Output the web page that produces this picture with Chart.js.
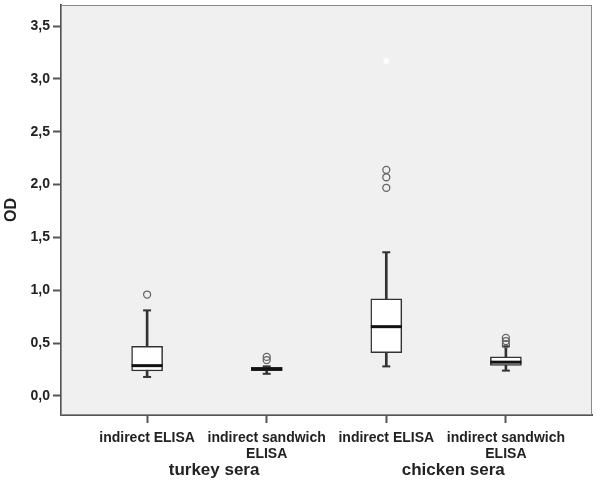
<!DOCTYPE html>
<html>
<head>
<meta charset="utf-8">
<script src="https://cdn.jsdelivr.net/npm/chart.js@4/dist/chart.umd.min.js"></script>
<style>
  html, body { margin: 0; padding: 0; background: #fff; }
  #wrap { width: 601px; height: 487px; }
</style>
</head>
<body>
<div id="wrap"><canvas id="chart" width="601" height="487"></canvas></div>
<script>
// Values
const categories = ['indirect ELISA', ['indirect sandwich', 'ELISA'], 'indirect ELISA', ['indirect sandwich', 'ELISA']];
const groups = ['turkey sera', 'chicken sera'];
const whiskerLow = [0.18, 0.21, 0.28, 0.24];
const q1 = [0.236, 0.24, 0.41, 0.29];
const median = [0.287, 0.255, 0.656, 0.32];
const q3 = [0.47, 0.27, 0.92, 0.37];
const whiskerHigh = [0.81, 0.28, 1.36, 0.47];
const outliers = [[0.96], [0.34, 0.37], [1.97, 2.07, 2.14], [0.49, 0.52, 0.55]];
const extremes = [[], [], [3.17], []];
const yTicks = [0, 0.5, 1, 1.5, 2, 2.5, 3, 3.5];

const TEXT = '#222';
const LINE = '#333';
const FONT = 'Liberation Sans, Arial, sans-serif';

const boxPoints = (lo, hi) => categories.map((c, i) => ({ x: i, y: [lo[i], hi[i]] }));
const flatPoints = (lists) => lists.flatMap((vals, i) => vals.map((v) => ({ x: i, y: v })));

// Keep scale boxes at fixed size, no extra label padding
const fixSize = (w, h) => (scale) => {
    if (w !== null) scale.width = w;
    if (h !== null) scale.height = h;
    scale.paddingTop = 0;
    scale.paddingBottom = 0;
    scale.paddingLeft = 0;
    scale.paddingRight = 0;
};

// Grey plot panel with thin frame
const panel = {
    id: 'panel',
    beforeDatasetsDraw(chart) {
        const { ctx, chartArea: a } = chart;
        ctx.save();
        ctx.fillStyle = '#f0f0f0';
        ctx.fillRect(a.left, a.top, a.right - a.left, a.bottom - a.top);
        ctx.strokeStyle = '#8a8a8a';
        ctx.lineWidth = 1;
        ctx.strokeRect(a.left + 0.5, a.top + 0.5, a.right - a.left - 1, a.bottom - a.top - 1);
        ctx.restore();
    },
};

new Chart(document.getElementById('chart'), {
    type: 'bar',
    data: {
        datasets: [
            {
                label: 'whisker',
                data: boxPoints(whiskerLow, whiskerHigh),
                grouped: false,
                barThickness: 2,
                backgroundColor: LINE,
                borderWidth: 0,
                order: 6,
            },
            {
                label: 'box',
                data: boxPoints(q1, q3),
                grouped: false,
                barThickness: 31,
                backgroundColor: '#ffffff',
                borderColor: LINE,
                borderWidth: 1.5,
                borderSkipped: false,
                order: 5,
            },
            {
                type: 'scatter',
                label: 'median',
                data: median.map((v, i) => ({ x: i, y: v })),
                pointStyle: 'line',
                radius: 15.5,
                borderColor: '#111',
                borderWidth: 3,
                order: 4,
            },
            {
                type: 'scatter',
                label: 'caps',
                data: whiskerLow.map((v, i) => ({ x: i, y: v })).concat(whiskerHigh.map((v, i) => ({ x: i, y: v }))),
                pointStyle: 'line',
                radius: 4,
                borderColor: LINE,
                borderWidth: 2,
                order: 4,
            },
            {
                type: 'scatter',
                label: 'outliers',
                data: flatPoints(outliers),
                pointStyle: 'circle',
                radius: 3.5,
                backgroundColor: 'rgba(0,0,0,0)',
                borderColor: '#666',
                borderWidth: 1.3,
                order: 3,
            },
            {
                type: 'scatter',
                label: 'extremes',
                data: flatPoints(extremes),
                pointStyle: 'star',
                radius: 3.5,
                borderColor: '#ffffff',
                borderWidth: 1.2,
                order: 2,
            },
        ],
    },
    options: {
        responsive: false,
        animation: false,
        layout: { autoPadding: false, padding: { top: 5, right: 9, left: 0, bottom: 0 } },
        plugins: {
            legend: { display: false },
            tooltip: { enabled: false },
        },
        scales: {
            x: {
                type: 'linear',
                position: 'bottom',
                min: -0.72,
                max: 3.72,
                offset: false,
                afterBuildTicks: (scale) => {
                    scale.ticks = categories.map((c, i) => ({ value: i }));
                },
                afterFit: fixSize(null, 46),
                ticks: {
                    autoSkip: false,
                    maxRotation: 0,
                    padding: 7,
                    color: TEXT,
                    font: { family: FONT, size: 14, weight: 'bold', lineHeight: 1.15 },
                    callback: (value) => categories[value],
                },
                grid: { offset: false, drawOnChartArea: false, tickLength: 8, tickColor: '#555', tickWidth: 2 },
                border: { color: '#555', width: 2 },
            },
            x2: {
                type: 'linear',
                position: 'bottom',
                weight: 1,
                min: -0.72,
                max: 3.72,
                offset: false,
                afterBuildTicks: (scale) => {
                    scale.ticks = [{ value: 0.56 }, { value: 2.56 }];
                },
                afterFit: fixSize(null, 26),
                ticks: {
                    autoSkip: false,
                    maxRotation: 0,
                    padding: -9,
                    color: TEXT,
                    font: { family: FONT, size: 17, weight: 'bold' },
                    callback: (value) => groups[value < 1.5 ? 0 : 1],
                },
                grid: { display: false, offset: false },
                border: { display: false },
            },
            y: {
                type: 'linear',
                min: -0.18,
                max: 3.7,
                afterBuildTicks: (scale) => {
                    scale.ticks = yTicks.map((v) => ({ value: v }));
                },
                afterFit: fixSize(61, null),
                title: {
                    display: true,
                    text: 'OD',
                    color: TEXT,
                    padding: { top: 2, bottom: 0 },
                    font: { family: FONT, size: 16, weight: 'bold' },
                },
                ticks: {
                    padding: 3,
                    color: TEXT,
                    font: { family: FONT, size: 14, weight: 'bold' },
                    callback: (value) => value.toFixed(1).replace('.', ','),
                },
                grid: { drawOnChartArea: false, tickLength: 8, tickColor: '#555', tickWidth: 2 },
                border: { color: '#555', width: 2 },
            },
        },
    },
    plugins: [panel],
});
</script>
</body>
</html>
